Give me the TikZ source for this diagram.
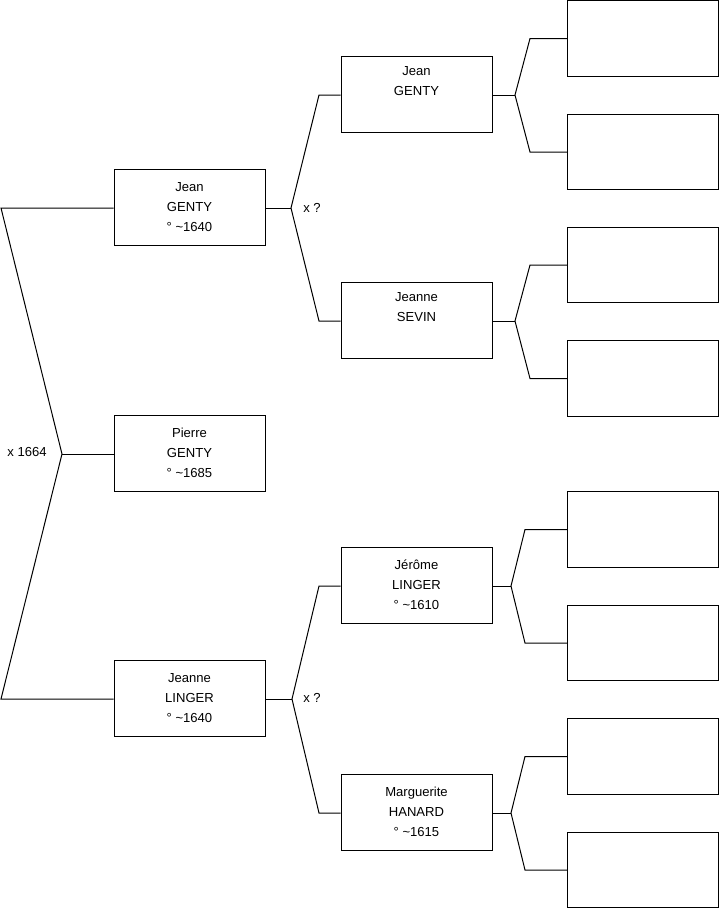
\documentclass[tikz,border=0pt]{standalone}
\usepackage{fontspec}
\setmainfont{Liberation Sans}
\usetikzlibrary{positioning}

\begin{document}
\begin{tikzpicture}[
    x=0.75pt, y=-0.75pt,
    line width=0.75pt,
    font=\fontsize{9.8}{15}\selectfont,
    person/.style={rectangle, draw, minimum width=113.25pt, minimum height=57pt, inner sep=0pt, align=center, fill=white},
    blank/.style={rectangle, draw, minimum width=113.25pt, minimum height=56.5pt, inner sep=0pt, fill=white},
    union/.style={inner sep=0pt, anchor=center},
    link/.style={line join=miter}
]
\useasboundingbox (0,0) rectangle (719,908);

% generation 1
\node[person] (jeanA) at (189.5,207) {Jean\\GENTY\\° \textasciitilde1640};
\node[person] (pierre) at (189.5,453) {Pierre\\GENTY\\° \textasciitilde1685};
\node[person] (jeanneA) at (189.5,698) {Jeanne\\LINGER\\° \textasciitilde1640};

% generation 2
\node[person] (jeanB) at (416.5,94) {Jean\\GENTY\\\strut};
\node[person] (sevin) at (416.5,320) {Jeanne\\SEVIN\\\strut};
\node[person] (jerome) at (416.5,585) {Jérôme\\LINGER\\° \textasciitilde1610};
\node[person] (hanard) at (416.5,812) {Marguerite\\HANARD\\° \textasciitilde1615};

% generation 3
\node[blank] (b1) at (643,38.5) {};
\node[blank] (b2) at (643,152) {};
\node[blank] (b3) at (643,265) {};
\node[blank] (b4) at (643,378.5) {};
\node[blank] (b5) at (643,529.5) {};
\node[blank] (b6) at (643,643) {};
\node[blank] (b7) at (643,756.5) {};
\node[blank] (b8) at (643,870) {};

% forks
\coordinate (rt) at (1,208);
\coordinate (rb) at (1,699);
\coordinate (vroot) at (62,454);
\coordinate (vjean) at (291,208);
\coordinate (vjeanne) at (292,699);
\coordinate (ejean) at (319,95);
\coordinate (esevin) at (319,321);
\coordinate (ejerome) at (319,586);
\coordinate (ehanard) at (319,813);
\coordinate (vB) at (515,95);
\coordinate (vS) at (515,321);
\coordinate (vJ) at (511,586);
\coordinate (vH) at (511,813);
\coordinate (e1) at (530,38.5);
\coordinate (e2) at (530,152);
\coordinate (e3) at (530,265);
\coordinate (e4) at (530,378.5);
\coordinate (e5) at (525,529.5);
\coordinate (e6) at (525,643);
\coordinate (e7) at (525,756.5);
\coordinate (e8) at (525,870);

\node[union] (m1) at (27,452) {x 1664};
\node[union] (m2) at (312,208) {x ?};
\node[union] (m3) at (312,698) {x ?};

\draw[link] (jeanA.west |- rt) -- (rt) -- (vroot) -- (rb) -- (jeanneA.west |- rb);
\draw (vroot) -- (pierre.west |- vroot);

\draw (jeanA.east |- vjean) -- (vjean);
\draw[link] (jeanB.west |- ejean) -- (ejean) -- (vjean) -- (esevin) -- (sevin.west |- esevin);
\draw (jeanneA.east |- vjeanne) -- (vjeanne);
\draw[link] (jerome.west |- ejerome) -- (ejerome) -- (vjeanne) -- (ehanard) -- (hanard.west |- ehanard);

\draw (jeanB.east |- vB) -- (vB);
\draw[link] (b1.west) -- (e1) -- (vB) -- (e2) -- (b2.west);
\draw (sevin.east |- vS) -- (vS);
\draw[link] (b3.west) -- (e3) -- (vS) -- (e4) -- (b4.west);
\draw (jerome.east |- vJ) -- (vJ);
\draw[link] (b5.west) -- (e5) -- (vJ) -- (e6) -- (b6.west);
\draw (hanard.east |- vH) -- (vH);
\draw[link] (b7.west) -- (e7) -- (vH) -- (e8) -- (b8.west);
\end{tikzpicture}
\end{document}
